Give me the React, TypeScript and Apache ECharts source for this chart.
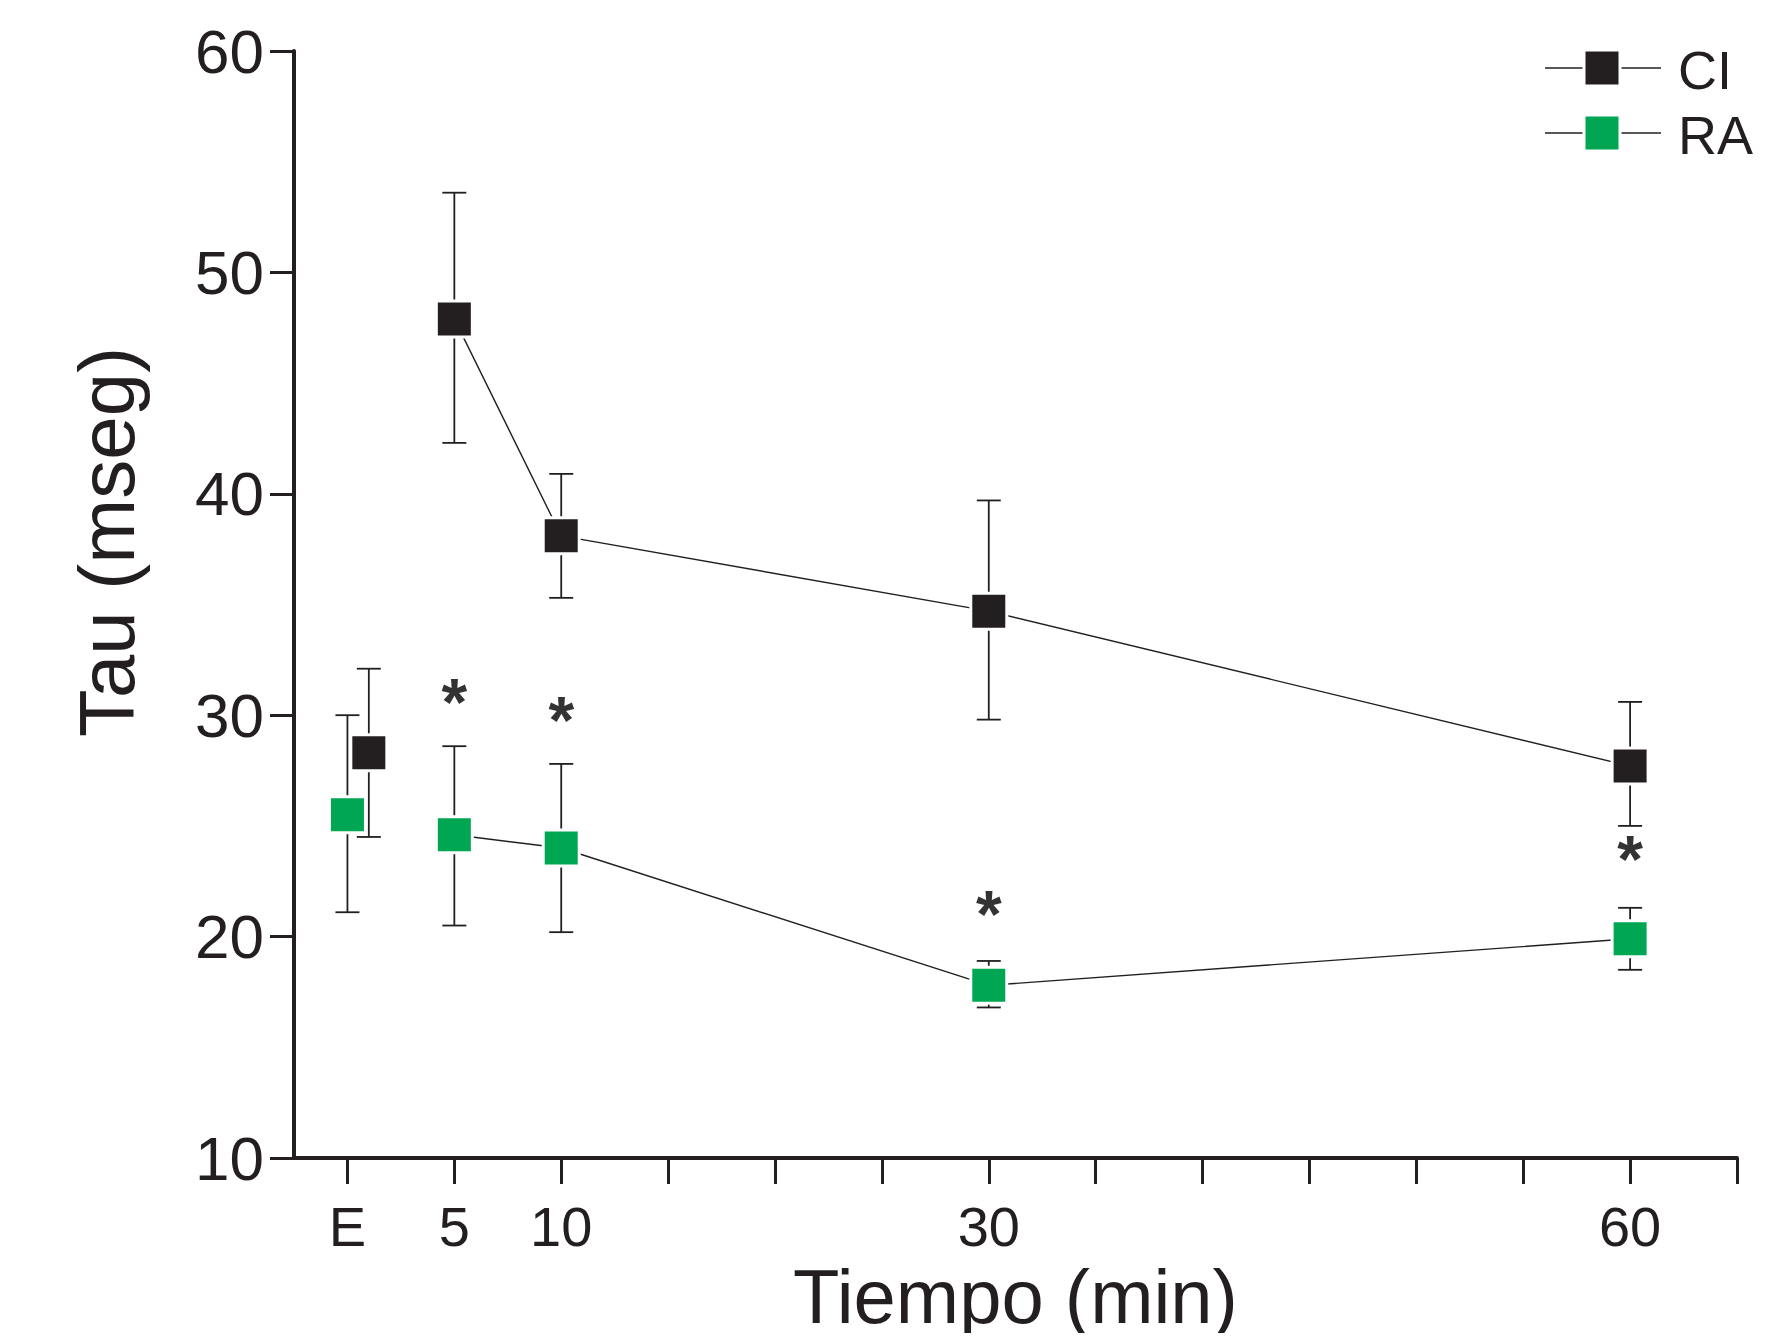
import React, { useEffect, useRef } from "react";
import * as echarts from "echarts";

const ciX = [1, 5, 10, 30, 60];
const ciY = [28.3, 47.9, 38.1, 34.7, 27.7];
const ciLo = [24.5, 42.3, 35.3, 29.8, 25.0];
const ciHi = [32.1, 53.6, 40.9, 39.7, 30.6];
const raX = [0, 5, 10, 30, 60];
const raY = [25.5, 24.6, 24.0, 17.8, 19.9];
const raLo = [21.1, 20.5, 20.2, 16.8, 18.5];
const raHi = [30.0, 28.6, 27.8, 18.9, 21.3];
const starX = [5, 10, 30, 60];
const starY = [30.6, 29.8, 21.0, 23.5];
const tickLabels: Record<number, string> = { 0: "E", 5: "5", 10: "10", 30: "30", 60: "60" };

const GREEN = "#00a651";
const INK = "#231f20";
const FONT = "Liberation Sans Narrow, Arial Narrow, Liberation Sans, sans-serif";

function errSeries(xs: number[], lo: number[], hi: number[]) {
  return {
    type: "custom",
    z: 1,
    data: xs.map((x, i) => [x, lo[i], hi[i]]),
    renderItem: (_p: any, api: any) => {
      const a = api.coord([api.value(0), api.value(1)]);
      const b = api.coord([api.value(0), api.value(2)]);
      const w = 12;
      const st = { stroke: INK, lineWidth: 1.8 };
      return {
        type: "group",
        children: [
          { type: "line", shape: { x1: a[0], y1: a[1], x2: b[0], y2: b[1] }, style: st },
          { type: "line", shape: { x1: a[0] - w, y1: a[1], x2: a[0] + w, y2: a[1] }, style: st },
          { type: "line", shape: { x1: b[0] - w, y1: b[1], x2: b[0] + w, y2: b[1] }, style: st },
        ],
      };
    },
  };
}

export default function App() {
  const ref = useRef<HTMLDivElement>(null);
  useEffect(() => {
    const chart = echarts.init(ref.current!, null, { renderer: "svg" });
    chart.setOption({
      animation: false,
      backgroundColor: "#fff",
      grid: { left: 286, right: 25, top: 43, bottom: 175, outerBoundsMode: "none", containLabel: false },
      xAxis: {
        type: "value",
        min: -2.5,
        max: 65,
        interval: 5,
        splitLine: { show: false },
        axisLine: { onZero: false, lineStyle: { color: INK, width: 4 } },
        axisTick: {
          show: true,
          length: 26,
          lineStyle: { color: INK, width: 3 },
          customValues: [0, 5, 10, 15, 20, 25, 30, 35, 40, 45, 50, 55, 60, 65],
        },
        axisLabel: {
          customValues: [0, 5, 10, 30, 60],
          formatter: (v: number) => tickLabels[v] ?? "",
          fontSize: 56,
          color: INK,
          fontFamily: FONT,
          margin: 40,
        },
        name: "Tiempo (min)",
        nameLocation: "middle",
        nameGap: 95,
        nameTextStyle: { fontSize: 76, color: INK, fontFamily: FONT },
      },
      yAxis: {
        type: "value",
        min: 10,
        max: 60,
        interval: 10,
        splitLine: { show: false },
        axisLine: { show: true, onZero: false, lineStyle: { color: INK, width: 4 } },
        axisTick: { show: true, inside: false, length: 24, lineStyle: { color: INK, width: 3 } },
        axisLabel: { fontSize: 62, color: INK, fontFamily: FONT, margin: 30 },
      },
      series: [
        errSeries(ciX, ciLo, ciHi),
        errSeries(raX, raLo, raHi),
        {
          type: "line",
          z: 2,
          data: ciX.slice(1).map((x, i) => [x, ciY[i + 1]]),
          symbol: "none",
          lineStyle: { color: INK, width: 1.4 },
        },
        {
          type: "line",
          z: 2,
          data: raX.slice(1).map((x, i) => [x, raY[i + 1]]),
          symbol: "none",
          lineStyle: { color: INK, width: 1.4 },
        },
        {
          type: "scatter",
          z: 3,
          data: ciX.map((x, i) => [x, ciY[i]]),
          symbol: "rect",
          symbolSize: 36,
          itemStyle: { color: INK, opacity: 1, borderColor: "#fff", borderWidth: 3 },
        },
        {
          type: "scatter",
          z: 3,
          data: raX.map((x, i) => [x, raY[i]]),
          symbol: "rect",
          symbolSize: 36,
          itemStyle: { color: GREEN, opacity: 1, borderColor: "#fff", borderWidth: 3 },
        },
        {
          type: "scatter",
          z: 3,
          data: starX.map((x, i) => [x, starY[i]]),
          symbolSize: 0,
          label: {
            show: true,
            position: "inside",
            formatter: "*",
            fontSize: 66,
            fontWeight: "bold",
            color: "#000",
            fontFamily: "Liberation Sans, sans-serif",
          },
        },
      ],
      graphic: [
        {
          type: "text",
          x: 99,
          y: 534,
          rotation: Math.PI / 2,
          style: { text: "Tau (mseg)", fontSize: 78, fill: INK, fontFamily: FONT, align: "center", verticalAlign: "middle" },
        },
        { type: "line", shape: { x1: 1537, y1: 60, x2: 1653, y2: 60 }, style: { stroke: INK, lineWidth: 1.4 } },
        { type: "rect", shape: { x: 1576, y: 42, width: 36, height: 36 }, style: { fill: INK, stroke: "#fff", lineWidth: 3 } },
        { type: "text", x: 1670, y: 62, style: { text: "CI", fontSize: 54, fill: INK, fontFamily: FONT, verticalAlign: "middle" } },
        { type: "line", shape: { x1: 1537, y1: 125, x2: 1653, y2: 125 }, style: { stroke: INK, lineWidth: 1.4 } },
        { type: "rect", shape: { x: 1576, y: 107, width: 36, height: 36 }, style: { fill: GREEN, stroke: "#fff", lineWidth: 3 } },
        { type: "text", x: 1670, y: 127, style: { text: "RA", fontSize: 54, fill: INK, fontFamily: FONT, verticalAlign: "middle" } },
      ],
    });
    return () => chart.dispose();
  }, []);
  return <div ref={ref} style={{ width: 1754, height: 1325 }} />;
}
